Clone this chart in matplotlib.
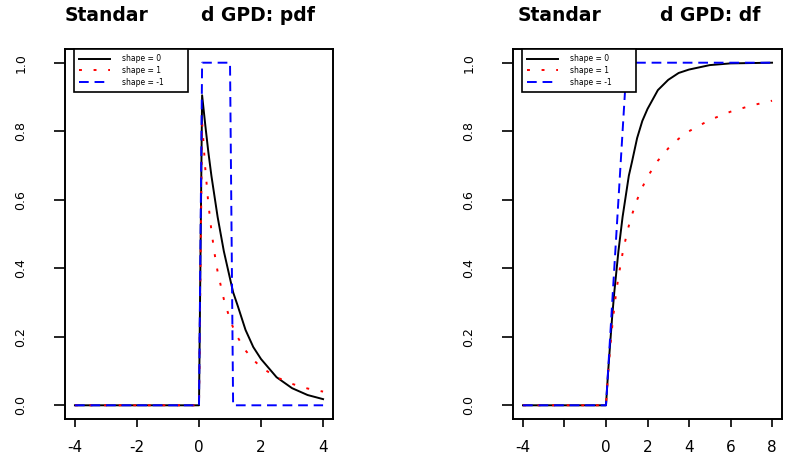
import matplotlib
matplotlib.use("Agg")
import matplotlib.pyplot as plt

# ---------- Data ----------
labels = ["shape = 0", "shape = 1", "shape = -1"]
colors = ["black", "red", "blue"]
styles = ["-", (0, (1.5, 6)), (0, (5, 3))]

# density panel
pdf_x = [-4, 0.0, 0.1, 0.2, 0.3, 0.4, 0.5, 0.6, 0.8, 1.0, 1.1, 1.25, 1.5,
         1.75, 2.0, 2.5, 3.0, 3.5, 4.0]
pdf_xi0 = [0, 0, 0.905, 0.82, 0.74, 0.67, 0.61, 0.55, 0.45, 0.37, 0.33, 0.29,
           0.22, 0.17, 0.135, 0.082, 0.05, 0.03, 0.018]
pdf_xi1 = [0, 0, 0.826, 0.694, 0.59, 0.51, 0.444, 0.39, 0.31, 0.25, 0.227,
           0.198, 0.16, 0.133, 0.111, 0.082, 0.0625, 0.049, 0.04]
pdf_xim1 = [0, 0, 1, 1, 1, 1, 1, 1, 1, 1, 0, 0, 0, 0, 0, 0, 0, 0, 0]

# distribution function panel
cdf_x = [-4, 0.0, 0.1, 0.2, 0.3, 0.4, 0.5, 0.6, 0.8, 1.0, 1.1, 1.25, 1.5,
         1.75, 2.0, 2.5, 3.0, 3.5, 4.0, 5.0, 6.0, 7.0, 8.0]
cdf_xi0 = [0, 0, 0.095, 0.18, 0.26, 0.33, 0.39, 0.45, 0.55, 0.63, 0.67, 0.71,
           0.78, 0.83, 0.865, 0.92, 0.95, 0.97, 0.98, 0.993, 0.998, 0.999, 1.0]
cdf_xi1 = [0, 0, 0.09, 0.167, 0.23, 0.286, 0.333, 0.375, 0.444, 0.5, 0.524,
           0.556, 0.6, 0.636, 0.667, 0.714, 0.75, 0.778, 0.8, 0.833, 0.857,
           0.875, 0.889]
cdf_xim1 = [0, 0, 0.1, 0.2, 0.3, 0.4, 0.5, 0.6, 0.8, 1.0, 1, 1, 1, 1, 1, 1,
            1, 1, 1, 1, 1, 1, 1]

y_ticks = [0.0, 0.2, 0.4, 0.6, 0.8, 1.0]
pdf_xticks = [-4, -2, 0, 2, 4]
pdf_xlabels = ["-4", "-2", "0", "2", "4"]
cdf_xticks = [-4, -2, 0, 2, 4, 6, 8]
cdf_xlabels = ["-4", "", "0", "2", "4", "6", "8"]

# ---------- Figure ----------
W, H = 794, 454
fig = plt.figure(figsize=(W / 100, H / 100), dpi=100)
plt.rcParams["font.family"] = ["DejaVu Sans"]


def px_box(left, top, right, bottom):
    return [left / W, (H - bottom) / H, (right - left) / W, (bottom - top) / H]


def style_axes(ax, xlim, xticks, xlabels):
    ax.set_xlim(*xlim)
    ax.set_ylim(-0.04, 1.04)
    ax.set_xticks(xticks)
    ax.set_xticklabels(xlabels, fontsize=11)
    ax.set_yticks(y_ticks)
    ax.set_yticklabels([f"{v:.1f}" for v in y_ticks], fontsize=9,
                       rotation=90, va="center")
    ax.tick_params(axis="x", length=6, width=1.2, pad=9, direction="out")
    ax.tick_params(axis="y", length=8, width=1.2, pad=19, direction="out")
    for sp in ax.spines.values():
        sp.set_linewidth(1.4)


def add_legend(ax):
    leg = ax.legend(loc="upper left", bbox_to_anchor=(0.034, 0.897, 0.425, 0.103),
                    mode="expand", borderaxespad=0, fontsize=5.5,
                    handlelength=4.0, handletextpad=1.6, labelspacing=0.35,
                    borderpad=0.7, fancybox=False, framealpha=1,
                    edgecolor="black")
    leg.get_frame().set_linewidth(1.2)


ax1 = fig.add_axes(px_box(65, 49, 333, 419))
for ys, c, ls, lab in zip([pdf_xi0, pdf_xi1, pdf_xim1], colors, styles, labels):
    ax1.plot(pdf_x, ys, color=c, linestyle=ls, linewidth=1.4, label=lab)
style_axes(ax1, (-4.32, 4.32), pdf_xticks, pdf_xlabels)
add_legend(ax1)

ax2 = fig.add_axes(px_box(513, 49, 782, 419))
for ys, c, ls, lab in zip([cdf_xi0, cdf_xi1, cdf_xim1], colors, styles, labels):
    ax2.plot(cdf_x, ys, color=c, linestyle=ls, linewidth=1.4, label=lab)
style_axes(ax2, (-4.48, 8.48), cdf_xticks, cdf_xlabels)
add_legend(ax2)

# titles (the reference renders them with a gap inside "Standard")
ty = (H - 21) / H
fig.text(65 / W, ty, "Standar", fontsize=13.5, fontweight="bold", va="baseline")
fig.text(201 / W, ty, "d GPD: pdf", fontsize=13.5, fontweight="bold", va="baseline")
fig.text(518 / W, ty, "Standar", fontsize=13.5, fontweight="bold", va="baseline")
fig.text(660 / W, ty, "d GPD: df", fontsize=13.5, fontweight="bold", va="baseline")

fig.savefig("out.png", dpi=100)
